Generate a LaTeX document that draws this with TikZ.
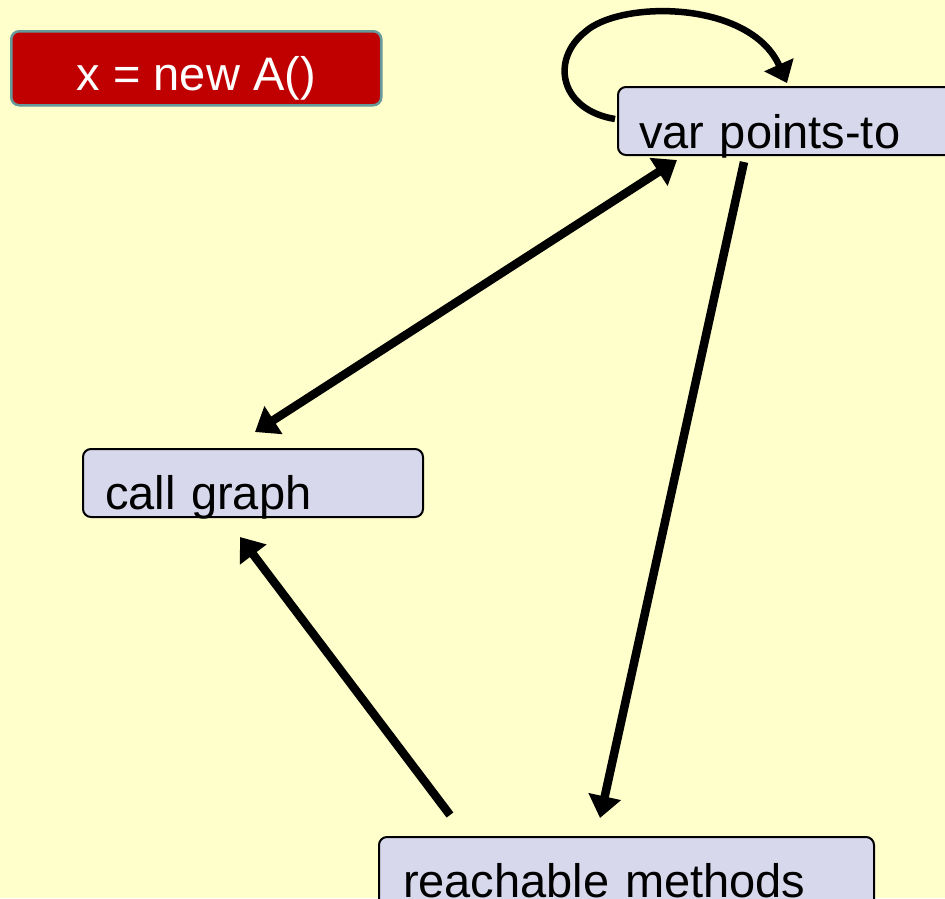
\documentclass[tikz,border=0pt]{standalone}
\usepackage{fontspec}
\setmainfont{Liberation Sans}
\usetikzlibrary{arrows.meta}
\definecolor{paper}{HTML}{FFFFCC}
\definecolor{boxfill}{HTML}{D8D8EC}
\definecolor{stmtred}{HTML}{C00000}
\definecolor{stmtedge}{HTML}{669999}
\tikzset{
  relbox/.style={draw=black, line width=2pt, fill=boxfill, rounded corners=8pt,
    inner ysep=0pt, align=left, anchor=north west,
    font=\fontsize{47}{56}\selectfont},
  stmtbox/.style={draw=stmtedge, line width=2.5pt, fill=stmtred, rounded corners=8pt,
    inner sep=0pt, text=white, anchor=north west, minimum width=370pt,
    text height=59pt, text depth=15pt, font=\fontsize{47}{56}\selectfont},
  bighead/.tip={Triangle[length=22pt,width=32pt]},
  rel/.style={line width=8.5pt, -{bighead}},
  birel/.style={line width=8.5pt, {bighead}-{bighead}}
}
\begin{document}
\begin{tikzpicture}[x=1pt,y=-1pt]
  \fill[paper] (0,0) rectangle (945,898);
  \useasboundingbox (0,0) rectangle (945,898);

  % the statement being analysed
  \node[stmtbox] (stmt) at (10,30) {x = new A()};

  % relations
  \node[relbox, inner xsep=21pt, text width=320pt, text height=61pt, text depth=7pt]
    (vpt) at (617,86) {var points-to};
  \node[relbox, inner xsep=22pt, text width=296pt, text height=60pt, text depth=8pt]
    (cg) at (82,448) {call graph};
  \node[relbox, inner xsep=24pt, text width=447pt, text height=60pt, text depth=40pt]
    (reach) at (378,836) {reachable methods};

  % dependencies between the relations
  \draw[line width=6.5pt, -{Triangle[length=20pt,width=31pt]}]
    ([xshift=-2pt,yshift=2pt]vpt.west)
      .. controls (560,110) and (550,60) .. (585,32)
      .. controls (620,0) and (750,0) .. ([xshift=170pt,yshift=3pt]vpt.north west);
  \draw[birel] ([xshift=60pt,yshift=-4pt]vpt.south west)
            -- ([xshift=173pt,yshift=16pt]cg.north west);
  \draw[rel] ([xshift=127pt,yshift=-6pt]vpt.south west)
          -- ([xshift=222pt,yshift=18pt]reach.north west);
  \draw[rel] ([xshift=72pt,yshift=21pt]reach.north west)
          -- ([xshift=158pt,yshift=-19pt]cg.south west);
\end{tikzpicture}
\end{document}
